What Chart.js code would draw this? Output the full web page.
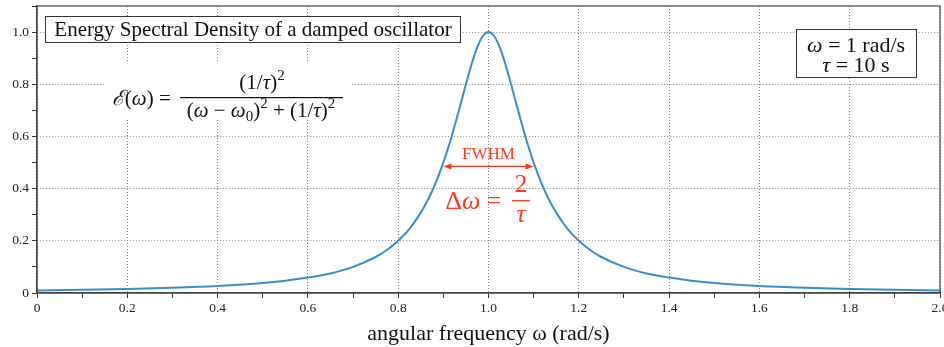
<!DOCTYPE html>
<html>
<head>
<meta charset="utf-8">
<script src="https://cdn.jsdelivr.net/npm/chart.js@4"></script>
<style>
  html, body { margin: 0; padding: 0; background: #fff; overflow: hidden; }
  #wrap { position: relative; width: 944px; height: 347px; }
</style>
</head>
<body>
<div id="wrap"><canvas id="esd"></canvas></div>
<script>
// angular frequency (rad/s)
const omega = [0, 0.1, 0.2, 0.3, 0.4, 0.5, 0.55, 0.6, 0.65, 0.7, 0.75, 0.775, 0.8, 0.825, 0.85,
  0.8625, 0.875, 0.8875, 0.9, 0.9125, 0.925, 0.9375, 0.95, 0.9625, 0.975, 0.9875, 1.0,
  1.0125, 1.025, 1.0375, 1.05, 1.0625, 1.075, 1.0875, 1.1, 1.1125, 1.125, 1.1375, 1.15,
  1.175, 1.2, 1.225, 1.25, 1.3, 1.35, 1.4, 1.45, 1.5, 1.6, 1.7, 1.8, 1.9, 2.0];
// energy spectral density (normalised)
const density = [0.010, 0.012, 0.015, 0.020, 0.027, 0.038, 0.047, 0.059, 0.075, 0.100, 0.138, 0.165, 0.200, 0.246, 0.308,
  0.346, 0.390, 0.441, 0.500, 0.566, 0.640, 0.719, 0.800, 0.877, 0.941, 0.985, 1.000,
  0.985, 0.941, 0.877, 0.800, 0.719, 0.640, 0.566, 0.500, 0.441, 0.390, 0.346, 0.308,
  0.246, 0.200, 0.165, 0.138, 0.100, 0.075, 0.059, 0.047, 0.038, 0.027, 0.020, 0.015, 0.012, 0.010];

const xTicks = [0, 0.2, 0.4, 0.6, 0.8, 1.0, 1.2, 1.4, 1.6, 1.8, 2.0];
const yTicks = [0, 0.2, 0.4, 0.6, 0.8, 1.0];
const fwhmRange = [0.9, 1.1];
const fwhmLevel = 0.485;

const SERIF = '"Liberation Serif", "DejaVu Serif", serif';
const RED = '#ff3b1f';
const BLUE = '#3a8dca';

const isMajor = (v, list) => list.some(t => Math.abs(t - v) < 1e-6);

// draw a row of text runs: [text, italic, scale, dy]
function runsWidth(ctx, runs, size) {
    let w = 0;
    runs.forEach(r => {
        ctx.font = (r[1] ? 'italic ' : '') + Math.round(size * (r[2] || 1)) + 'px ' + SERIF;
        w += ctx.measureText(r[0]).width;
    });
    return w;
}
function drawRuns(ctx, runs, x, y, size, align) {
    let w = runsWidth(ctx, runs, size);
    let cx = align === 'center' ? x - w / 2 : (align === 'right' ? x - w : x);
    ctx.textAlign = 'left';
    ctx.textBaseline = 'alphabetic';
    runs.forEach(r => {
        ctx.font = (r[1] ? 'italic ' : '') + Math.round(size * (r[2] || 1)) + 'px ' + SERIF;
        ctx.fillText(r[0], cx, y + (r[3] || 0));
        cx += ctx.measureText(r[0]).width;
    });
    return w;
}

const annotations = {
    id: 'annotations',
    afterDraw(chart) {
        const ctx = chart.ctx;
        const a = chart.chartArea;
        const xs = chart.scales.x, ys = chart.scales.y;
        ctx.save();

        // frame
        ctx.strokeStyle = '#444';
        ctx.lineWidth = 1.2;
        ctx.strokeRect(a.left, a.top, a.right - a.left, a.bottom - a.top);

        // title box
        ctx.fillStyle = '#fff';
        ctx.fillRect(45, 16, 415, 26);
        ctx.strokeStyle = '#333';
        ctx.lineWidth = 1;
        ctx.strokeRect(45.5, 16.5, 415, 26);
        ctx.fillStyle = '#111';
        drawRuns(ctx, [['Energy Spectral Density of a damped oscillator', false]], 253, 36, 21, 'center');

        // formula
        ctx.fillStyle = '#fff';
        ctx.fillRect(105, 62, 245, 56);
        ctx.fillStyle = '#111';
        drawRuns(ctx, [['ℰ', true], ['(', false], ['ω', true], [') = ', false]], 176, 105, 21, 'right');
        drawRuns(ctx, [['(1/', false], ['τ', true], [')', false], ['2', false, 0.7, -9]], 262, 89, 21, 'center');
        ctx.fillRect(180, 97, 163, 1.2);
        drawRuns(ctx, [['(', false], ['ω', true], [' − ', false], ['ω', true], ['0', false, 0.7, 4],
            [')', false], ['2', false, 0.7, -9], [' + (1/', false], ['τ', true], [')', false], ['2', false, 0.7, -9]],
            261, 117, 21, 'center');

        // parameter box
        ctx.fillStyle = '#fff';
        ctx.fillRect(796, 29, 120, 48);
        ctx.strokeStyle = '#333';
        ctx.strokeRect(796.5, 29.5, 120, 48);
        ctx.fillStyle = '#111';
        drawRuns(ctx, [['ω', true], [' = 1 rad/s', false]], 856, 52, 22, 'center');
        drawRuns(ctx, [['τ', true], [' = 10 s', false]], 856, 72, 22, 'center');

        // FWHM arrow
        const x1 = xs.getPixelForValue(fwhmRange[0]);
        const x2 = xs.getPixelForValue(fwhmRange[1]);
        const yA = ys.getPixelForValue(fwhmLevel);
        ctx.strokeStyle = RED;
        ctx.fillStyle = RED;
        ctx.lineWidth = 1.2;
        ctx.beginPath();
        ctx.moveTo(x1 + 4, yA);
        ctx.lineTo(x2 - 4, yA);
        ctx.stroke();
        [[x1, 1], [x2, -1]].forEach(([px, d]) => {
            ctx.beginPath();
            ctx.moveTo(px, yA);
            ctx.lineTo(px + 8 * d, yA - 3);
            ctx.lineTo(px + 8 * d, yA + 3);
            ctx.closePath();
            ctx.fill();
        });
        const xm = (x1 + x2) / 2;
        drawRuns(ctx, [['FWHM', false]], xm, yA - 7, 17, 'center');
        drawRuns(ctx, [['Δ', false], ['ω', true], [' = ', false]], 508, 209, 26, 'right');
        drawRuns(ctx, [['2', false]], 521, 192, 26, 'center');
        ctx.fillRect(512, 200, 18, 1.3);
        drawRuns(ctx, [['τ', true]], 521, 222, 26, 'center');

        ctx.restore();
    }
};

new Chart(document.getElementById('esd'), {
    type: 'line',
    data: {
        datasets: [{
            data: omega.map((w, i) => ({ x: w, y: density[i] })),
            borderColor: BLUE,
            borderWidth: 2,
            pointRadius: 0,
            cubicInterpolationMode: 'monotone',
            fill: false
        }]
    },
    options: {
        responsive: true,
        maintainAspectRatio: false,
        animation: false,
        layout: { padding: { top: 6, right: 4, left: 0, bottom: 0 } },
        plugins: {
            legend: { display: false },
            tooltip: { enabled: false }
        },
        scales: {
            x: {
                type: 'linear',
                min: 0,
                max: 2,
                ticks: {
                    stepSize: 0.1,
                    autoSkip: false,
                    maxRotation: 0,
                    color: '#222',
                    font: { family: SERIF, size: 13.5 },
                    padding: 2,
                    callback: v => isMajor(v, xTicks) ? (v === 0 ? '0' : v.toFixed(1)) : ''
                },
                grid: {
                    color: c => isMajor(c.tick.value, xTicks) ? '#888' : 'rgba(0,0,0,0)',
                    tickColor: '#333',
                    tickLength: 5,
                    lineWidth: 1
                },
                border: { color: '#444', width: 1.2, dash: [1, 2] },
                title: {
                    display: true,
                    text: 'angular frequency ω (rad/s)',
                    color: '#111',
                    font: { family: SERIF, size: 22 },
                    padding: { top: 6, bottom: 0 }
                },
                afterFit(scale) {
                    scale.paddingRight = 0;
                    scale.paddingLeft = 0;
                    scale.height = 54;
                }
            },
            y: {
                min: 0,
                max: 1.1,
                ticks: {
                    stepSize: 0.1,
                    autoSkip: false,
                    color: '#222',
                    font: { family: SERIF, size: 13.5 },
                    padding: 3,
                    callback: v => isMajor(v, yTicks) ? (v === 0 ? '0' : v.toFixed(1)) : ''
                },
                grid: {
                    color: c => isMajor(c.tick.value, yTicks) ? '#888' : 'rgba(0,0,0,0)',
                    tickColor: '#333',
                    tickLength: 5,
                    lineWidth: 1
                },
                border: { color: '#444', width: 1.2, dash: [1, 2] },
                afterFit(scale) {
                    scale.width = 37;
                    scale.paddingTop = 0;
                }
            }
        }
    },
    plugins: [annotations]
});
</script>
</body>
</html>
